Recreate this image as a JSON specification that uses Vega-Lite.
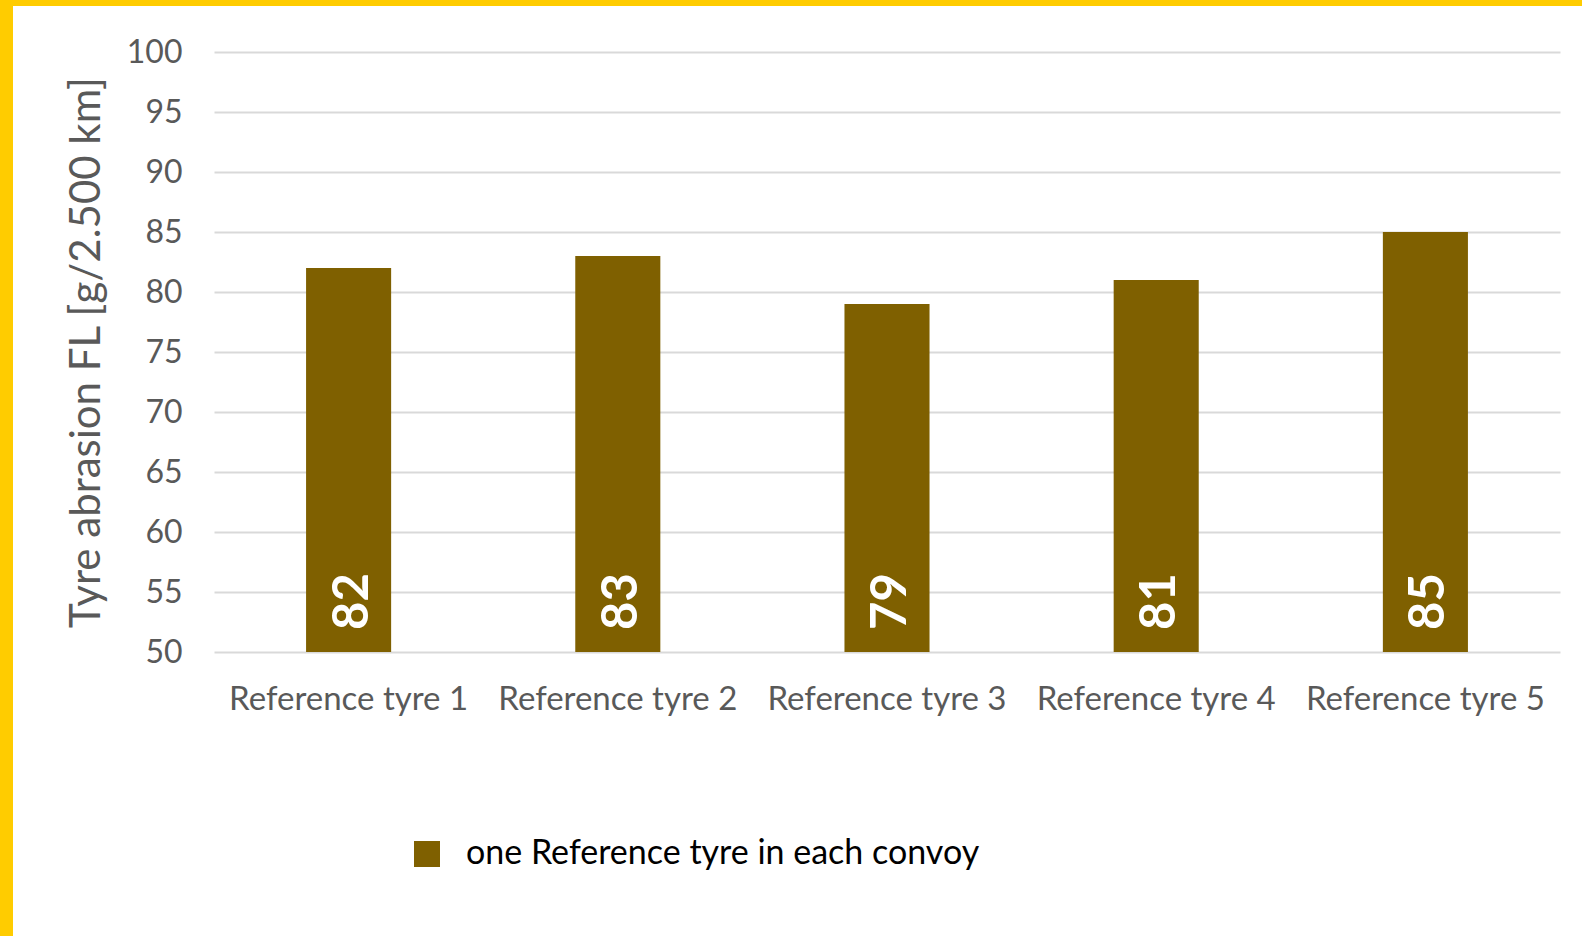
{
  "$schema": "https://vega.github.io/schema/vega-lite/v6.json",
  "background": "white",
  "padding": 0,
  "spacing": 0,
  "bounds": "flush",
  "config": {"view": {"stroke": null}, "font": "Lato"},
  "vconcat": [
    {
      "width": 1582, "height": 6,
      "view": {"fill": "#FFCC00", "stroke": null},
      "data": {"values": [{}]},
      "mark": {"type": "point", "opacity": 0},
      "encoding": {}
    },
    {
      "width": 13, "height": 46,
      "view": {"fill": "#FFCC00", "stroke": null},
      "data": {"values": [{}]},
      "mark": {"type": "point", "opacity": 0},
      "encoding": {}
    },
    {
      "spacing": 201,
      "bounds": "flush",
      "hconcat": [
        {
          "width": 13, "height": 884,
          "view": {"fill": "#FFCC00", "stroke": null},
          "data": {"values": [{}]},
          "mark": {"type": "point", "opacity": 0},
          "encoding": {}
        },
        {
          "width": 1346, "height": 600,
          "data": {"values": [
            {"tyre": "Reference tyre 1", "abrasion": 82, "series": "one Reference tyre in each convoy"},
            {"tyre": "Reference tyre 2", "abrasion": 83, "series": "one Reference tyre in each convoy"},
            {"tyre": "Reference tyre 3", "abrasion": 79, "series": "one Reference tyre in each convoy"},
            {"tyre": "Reference tyre 4", "abrasion": 81, "series": "one Reference tyre in each convoy"},
            {"tyre": "Reference tyre 5", "abrasion": 85, "series": "one Reference tyre in each convoy"}
          ]},
          "encoding": {
            "x": {
              "field": "tyre", "type": "nominal", "sort": null,
              "scale": {"paddingInner": 0.684, "paddingOuter": 0.342},
              "axis": {"title": null, "labelAngle": 0, "labelFontSize": 33, "labelColor": "#595959", "labelPadding": 31, "labelLimit": 1000, "domain": false, "ticks": false, "labelFont": "Lato"}
            }
          },
          "layer": [
            {
              "mark": {"type": "bar"},
              "encoding": {
                "y": {
                  "field": "abrasion", "type": "quantitative",
                  "scale": {"domain": [50, 100], "nice": false, "zero": false},
                  "axis": {
                    "title": "Tyre abrasion FL [g/2.500 km]",
                    "values": [50, 55, 60, 65, 70, 75, 80, 85, 90, 95, 100],
                    "grid": true, "gridColor": "#D9D9D9", "gridWidth": 2,
                    "domain": false, "ticks": false,
                    "labelFontSize": 32, "labelColor": "#595959", "labelPadding": 32, "labelFont": "Lato",
                    "titleFontSize": 42, "titleColor": "#595959", "titleFontWeight": "normal", "titlePadding": 18, "titleFont": "Lato"
                  }
                },
                "y2": {"datum": 50},
                "color": {
                  "field": "series", "type": "nominal",
                  "scale": {"range": ["#7F6000"]},
                  "legend": {
                    "orient": "none", "legendX": 410, "legendY": 837, "title": null,
                    "symbolType": "square", "symbolSize": 676, "symbolStrokeWidth": 0, "symbolOpacity": 1,
                    "labelFontSize": 34, "labelColor": "#000000", "labelFont": "Lato", "labelOffset": 22, "labelLimit": 1000, "padding": 0
                  }
                }
              }
            },
            {
              "mark": {"type": "text", "angle": 270, "align": "left", "baseline": "middle", "dx": 22, "dy": 4, "color": "white", "fontWeight": "bold", "fontSize": 49, "font": "Lato"},
              "encoding": {
                "y": {"datum": 50},
                "text": {"field": "abrasion", "type": "quantitative"}
              }
            }
          ]
        }
      ]
    }
  ]
}
